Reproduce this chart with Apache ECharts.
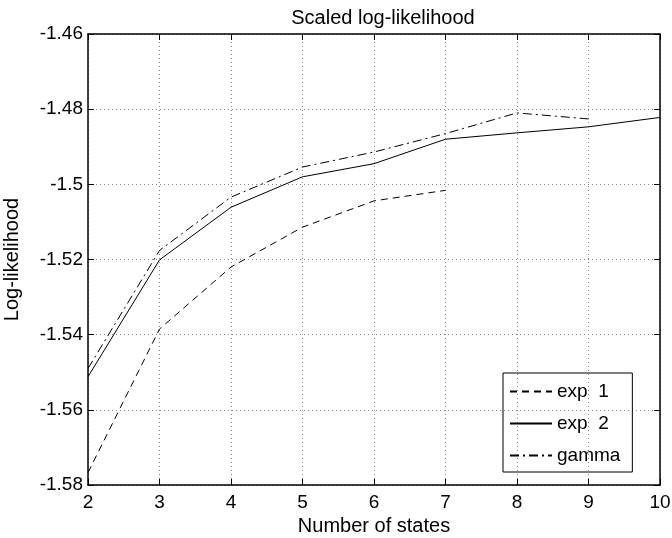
<!DOCTYPE html>
<html>
<head>
<meta charset="utf-8">
<script src="https://cdn.jsdelivr.net/npm/echarts@6/dist/echarts.min.js"></script>
<style>html,body{margin:0;padding:0;background:#fff;}#chart{width:672px;height:538px;}</style>
</head>
<body>
<div id="chart"></div>
<script>
var states = [2, 3, 4, 5, 6, 7, 8, 9, 10];
var exp1 = [-1.5767, -1.5385, -1.5220, -1.5114, -1.5044, -1.5016];
var exp2 = [-1.5512, -1.5201, -1.5061, -1.4980, -1.4945, -1.4880, -1.4863, -1.4847, -1.4822];
var gamma = [-1.5490, -1.5176, -1.5034, -1.4954, -1.4914, -1.4865, -1.4810, -1.4826];
var seriesNames = ['exp  1', 'exp  2', 'gamma'];

function pairs(vals) { return vals.map(function (v, i) { return [states[i], v]; }); }

var font = 'Liberation Sans, Arial, Helvetica, sans-serif';
var chart = echarts.init(document.getElementById('chart'));
var tickStyle = { inside: true, length: 6, lineStyle: { color: '#000', width: 1 } };
chart.setOption({
  animation: false,
  backgroundColor: '#fff',
  title: {
    text: 'Scaled log-likelihood', left: 378, top: 3, textAlign: 'center',
    textStyle: { fontFamily: font, fontSize: 20, fontWeight: 'normal', color: '#000' }
  },
  grid: { left: 88, right: 12, top: 34, bottom: 53, containLabel: false, outerBoundsMode: 'none' },
  legend: {
    orient: 'vertical', left: 503, top: 373, width: 132,
    data: seriesNames,
    borderColor: '#000', borderWidth: 1, padding: [9, 12, 7, 6],
    itemWidth: 42, itemHeight: 14, itemGap: 13,
    itemStyle: { color: 'rgba(0,0,0,0)', borderColor: 'rgba(0,0,0,0)', borderWidth: 0 },
    textStyle: { fontFamily: font, fontSize: 19, color: '#000' }
  },
  xAxis: [{
    type: 'value', min: 2, max: 10, interval: 1,
    name: 'Number of states', nameLocation: 'middle', nameGap: 31,
    nameTextStyle: { fontFamily: font, fontSize: 20, color: '#000' },
    axisLine: { lineStyle: { color: '#000', width: 1.5 } },
    axisTick: tickStyle,
    axisLabel: { fontFamily: font, fontSize: 19, color: '#000', margin: 8 },
    splitLine: { show: true, lineStyle: { color: '#888', type: [1, 3], width: 1 } }
  }, {
    type: 'value', min: 2, max: 10, interval: 1, position: 'top',
    axisLine: { lineStyle: { color: '#000', width: 1.5 } },
    axisTick: tickStyle, axisLabel: { show: false }, splitLine: { show: false }
  }],
  yAxis: [{
    type: 'value', min: -1.58, max: -1.46, interval: 0.02,
    name: 'Log-likelihood', nameLocation: 'middle', nameGap: 66,
    nameTextStyle: { fontFamily: font, fontSize: 20, color: '#000' },
    axisLine: { lineStyle: { color: '#000', width: 1.5 } },
    axisTick: tickStyle,
    axisLabel: { fontFamily: font, fontSize: 19, color: '#000', margin: 5 },
    splitLine: { show: true, lineStyle: { color: '#888', type: [1, 3], width: 1 } }
  }, {
    type: 'value', min: -1.58, max: -1.46, interval: 0.02, position: 'right',
    axisLine: { lineStyle: { color: '#000', width: 1.5 } },
    axisTick: tickStyle, axisLabel: { show: false }, splitLine: { show: false }
  }],
  series: [{
    name: seriesNames[0], type: 'line', data: pairs(exp1), symbol: 'none',
    lineStyle: { color: '#000', width: 1, type: [7, 5] }, itemStyle: { color: '#000' }
  }, {
    name: seriesNames[1], type: 'line', data: pairs(exp2), symbol: 'none',
    lineStyle: { color: '#000', width: 1, type: 'solid' }, itemStyle: { color: '#000' }
  }, {
    name: seriesNames[2], type: 'line', data: pairs(gamma), symbol: 'none',
    lineStyle: { color: '#000', width: 1, type: [9, 4, 2, 4] }, itemStyle: { color: '#000' }
  }]
});
</script>
</body>
</html>
